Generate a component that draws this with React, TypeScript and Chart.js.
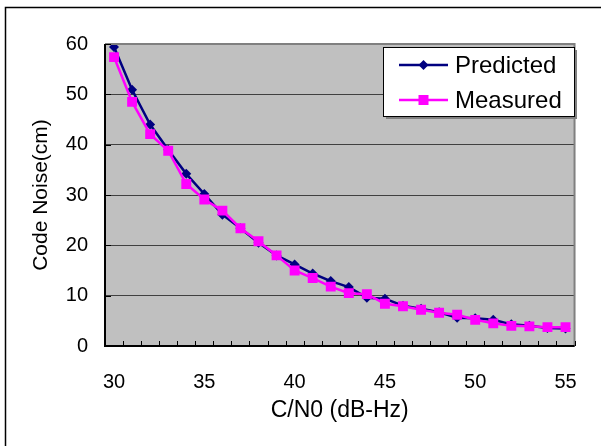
import React, { useEffect, useRef } from "react";
import { Chart, registerables } from "chart.js";

Chart.register(...registerables);

const categories = [30,31,32,33,34,35,36,37,38,39,40,41,42,43,44,45,46,47,48,49,50,51,52,53,54,55];
const predicted = [59.4,50.9,44.0,39.0,34.2,30.2,26.1,23.4,20.5,18.0,16.2,14.4,12.9,11.7,9.6,9.4,8.0,7.4,6.7,5.6,5.5,5.2,4.3,4.0,3.6,3.5];
const measured = [57.4,48.5,42.1,38.8,32.2,29.1,26.9,23.4,20.8,18.0,15.0,13.5,11.8,10.5,10.3,8.4,7.9,7.2,6.6,6.2,5.2,4.5,4.0,3.9,3.75,3.75];
const xTickLabels = ["30","35","40","45","50","55"];
const seriesNames = ["Predicted", "Measured"];
const seriesColors = ["#000080", "#FF00FF"];

const FONT = "'Liberation Sans', Arial, sans-serif";

const decorPlugin = {
  id: "decor",
  beforeDraw(chart: any) {
    const { ctx, chartArea: a } = chart;
    ctx.save();
    ctx.fillStyle = "#ffffff";
    ctx.fillRect(0, 0, chart.width, chart.height);
    ctx.fillStyle = "#C0C0C0";
    ctx.fillRect(a.left, a.top, a.right - a.left, a.bottom - a.top);
    ctx.restore();
  },
  afterDraw(chart: any) {
    const { ctx, chartArea: a } = chart;
    const xs = chart.scales.x;
    const ys = chart.scales.y;
    ctx.save();
    // outer frame
    ctx.strokeStyle = "#000";
    ctx.lineWidth = 1.5;
    ctx.beginPath();
    ctx.moveTo(5.5, chart.height);
    ctx.lineTo(5.5, 7.5);
    ctx.lineTo(chart.width, 7.5);
    ctx.stroke();
    // plot frame
    ctx.lineWidth = 2;
    ctx.strokeStyle = "#808080";
    ctx.beginPath();
    ctx.moveTo(a.left, a.top);
    ctx.lineTo(a.right, a.top);
    ctx.lineTo(a.right, a.bottom);
    ctx.stroke();
    ctx.strokeStyle = "#000";
    ctx.beginPath();
    ctx.moveTo(a.left, a.top);
    ctx.lineTo(a.left, a.bottom);
    ctx.lineTo(a.right, a.bottom);
    ctx.stroke();
    // inner tick marks
    ctx.lineWidth = 1;
    ctx.beginPath();
    for (let i = 0; i <= categories.length; i++) {
      const x = Math.round(xs.getPixelForValue(i - 0.5)) + 0.5;
      ctx.moveTo(x, a.bottom);
      ctx.lineTo(x, a.bottom - 5);
    }
    ys.ticks.forEach((t: any) => {
      const y = Math.round(ys.getPixelForValue(t.value)) + 0.5;
      ctx.moveTo(a.left, y);
      ctx.lineTo(a.left + 6, y);
    });
    ctx.stroke();
    // legend
    const bx = 383, by = 47, bw = 191, bh = 69;
    ctx.fillStyle = "#808080";
    ctx.fillRect(bx + 3, by + 3, bw, bh);
    ctx.fillStyle = "#ffffff";
    ctx.fillRect(bx, by, bw, bh);
    ctx.strokeStyle = "#000";
    ctx.lineWidth = 1;
    ctx.strokeRect(bx + 0.5, by + 0.5, bw, bh);
    const rows = [65, 100];
    seriesNames.forEach((name, i) => {
      const y = rows[i];
      ctx.strokeStyle = seriesColors[i];
      ctx.fillStyle = seriesColors[i];
      ctx.lineWidth = 2.5;
      ctx.beginPath();
      ctx.moveTo(399, y);
      ctx.lineTo(448, y);
      ctx.stroke();
      const cx = 423.5;
      if (i === 0) {
        ctx.beginPath();
        ctx.moveTo(cx, y - 5);
        ctx.lineTo(cx + 5, y);
        ctx.lineTo(cx, y + 5);
        ctx.lineTo(cx - 5, y);
        ctx.closePath();
        ctx.fill();
      } else {
        ctx.fillRect(cx - 5, y - 5, 10, 10);
      }
      ctx.fillStyle = "#000";
      ctx.font = `24px ${FONT}`;
      ctx.textBaseline = "middle";
      ctx.textAlign = "left";
      ctx.fillText(name, 455, y + 1);
    });
    ctx.restore();
  },
};

export default function App() {
  const ref = useRef<HTMLCanvasElement>(null);
  useEffect(() => {
    document.body.style.margin = "0";
    const chart = new Chart(ref.current!, {
      type: "line",
      data: {
        labels: categories.map(String),
        datasets: [
          {
            label: seriesNames[0],
            data: predicted,
            borderColor: seriesColors[0],
            backgroundColor: seriesColors[0],
            borderWidth: 2.5,
            pointStyle: "rectRot",
            pointRadius: 5,
            pointBorderWidth: 0,
            tension: 0,
            order: 2,
          },
          {
            label: seriesNames[1],
            data: measured,
            borderColor: seriesColors[1],
            backgroundColor: seriesColors[1],
            borderWidth: 2.5,
            pointStyle: "rect",
            pointRadius: 7,
            pointBorderWidth: 0,
            tension: 0,
            order: 1,
          },
        ],
      },
      options: {
        animation: false,
        responsive: false,
        layout: { padding: { left: 0, right: 19, top: 44, bottom: 0 } },
        plugins: { legend: { display: false }, tooltip: { enabled: false } },
        scales: {
          x: {
            type: "category",
            offset: true,
            afterFit(s: any) { s.height = 100; },
            grid: { display: false, drawTicks: false, offset: true },
            border: { display: false },
            ticks: {
              autoSkip: false,
              maxRotation: 0,
              padding: 24,
              color: "#000",
              font: { family: FONT, size: 20, lineHeight: 1.2 },
              callback: (_v: any, i: number) => {
                const s = String(categories[i]);
                return xTickLabels.includes(s) ? s : "";
              },
            },
            title: {
              display: true,
              text: "C/N0 (dB-Hz)",
              color: "#000",
              font: { family: FONT, size: 23, lineHeight: 1.2 },
              padding: { top: 0, bottom: 22 },
            },
          },
          y: {
            min: 0,
            max: 60,
            afterFit(s: any) { s.width = 105; },
            grid: { color: "#404040", lineWidth: 1, drawTicks: false },
            border: { display: false },
            ticks: {
              stepSize: 10,
              padding: 17,
              color: "#000",
              font: { family: FONT, size: 20, lineHeight: 1.2 },
            },
            title: {
              display: true,
              text: "Code Noise(cm)",
              color: "#000",
              font: { family: FONT, size: 21, lineHeight: 1.2 },
              padding: { top: 29, bottom: 0 },
            },
          },
        },
      },
      plugins: [decorPlugin],
    });
    return () => chart.destroy();
  }, []);
  return <canvas ref={ref} width={601} height={446} style={{ display: "block" }} />;
}
